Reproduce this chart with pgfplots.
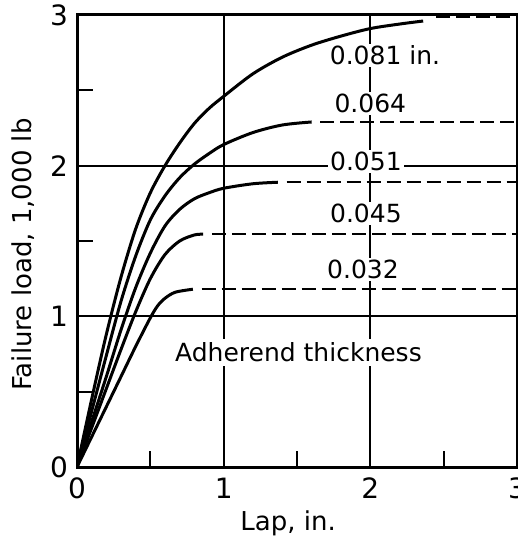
\documentclass[border=0pt]{standalone}
\usepackage{fontspec}
\setmainfont{DejaVu Sans}
\usepackage{pgfplots}
\pgfplotsset{compat=1.18}
\begin{document}
\begin{tikzpicture}
\begin{axis}[
  scale only axis, width=220pt, height=226pt,
  xmin=0, xmax=3, ymin=0, ymax=3,
  xtick={0,1,2,3}, ytick={0,1,2,3},
  minor xtick={0.5,1.5,2.5}, minor ytick={0.5,1.5,2.5},
  major tick length=0pt, minor tick length=8pt,
  tick align=inside, tick pos=left,
  minor tick style={line width=1pt,black},
  grid=major, major grid style={line width=1pt,black},
  axis line style={line width=1.5pt},
  /pgf/number format/assume math mode=true,
  ticklabel style={font=\fontsize{14}{16}\selectfont},
  xticklabel style={yshift=-2pt},
  yticklabel style={xshift=-1pt},
  xlabel={Lap, in.}, ylabel={Failure load, 1,000 lb},
  label style={font=\fontsize{13}{15}\selectfont},
  xlabel style={at={(axis description cs:0.48,-0.124)},anchor=center},
  ylabel style={at={(axis description cs:-0.123,0.47)},anchor=center},
]
\coordinate (SW) at (rel axis cs:0,0);
\coordinate (NE) at (rel axis cs:1,1);
% 0.081 in.
\addplot[line width=1.5pt, smooth, tension=0.5] coordinates {
 (0,0) (0.1,0.45) (0.2,0.88) (0.3,1.26) (0.4,1.58) (0.5,1.82) (0.6,2.0)
 (0.7,2.15) (0.8,2.28) (0.9,2.38) (1.0,2.46) (1.2,2.61) (1.4,2.72) (1.6,2.8)
 (1.8,2.86) (2.0,2.91) (2.2,2.94) (2.36,2.96)};
\addplot[line width=1.2pt, dash pattern=on 7pt off 3pt] coordinates {(2.45,2.985) (3,2.985)};
% 0.064
\addplot[line width=1.5pt, smooth, tension=0.5] coordinates {
 (0,0) (0.1,0.37) (0.2,0.74) (0.3,1.1) (0.4,1.4) (0.5,1.64) (0.6,1.8)
 (0.7,1.92) (0.8,2.01) (0.9,2.08) (1.0,2.14) (1.2,2.22) (1.4,2.27) (1.6,2.29)};
\addplot[line width=1.2pt, dash pattern=on 7pt off 3pt] coordinates {(1.66,2.29) (3,2.29)};
% 0.051
\addplot[line width=1.5pt, smooth, tension=0.5] coordinates {
 (0,0) (0.1,0.3) (0.2,0.6) (0.3,0.91) (0.4,1.19) (0.5,1.42) (0.6,1.6)
 (0.7,1.71) (0.8,1.78) (0.9,1.82) (1.0,1.85) (1.2,1.88) (1.37,1.89)};
\addplot[line width=1.2pt, dash pattern=on 7pt off 3pt] coordinates {(1.43,1.89) (3,1.89)};
% 0.045
\addplot[line width=1.5pt, smooth, tension=0.5] coordinates {
 (0,0) (0.1,0.26) (0.2,0.52) (0.3,0.78) (0.4,1.03) (0.5,1.25) (0.6,1.41)
 (0.7,1.5) (0.8,1.54) (0.86,1.545)};
\addplot[line width=1.2pt, dash pattern=on 7pt off 3pt] coordinates {(0.92,1.545) (3,1.545)};
% 0.032
\addplot[line width=1.5pt, smooth, tension=0.5] coordinates {
 (0,0) (0.1,0.2) (0.2,0.4) (0.3,0.6) (0.4,0.8) (0.5,0.99) (0.55,1.07)
 (0.6,1.12) (0.67,1.16) (0.79,1.18)};
\addplot[line width=1.2pt, dash pattern=on 7pt off 3pt] coordinates {(0.85,1.18) (3,1.18)};
% labels
\node[fill=white, inner sep=1pt, font=\fontsize{12.5}{14}\selectfont] at (axis cs:2.1,2.73) {0.081 in.};
\node[fill=white, inner sep=1pt, font=\fontsize{12.5}{14}\selectfont] at (axis cs:2.0,2.41) {0.064};
\node[fill=white, inner sep=1pt, font=\fontsize{12.5}{14}\selectfont] at (axis cs:1.97,2.03) {0.051};
\node[fill=white, inner sep=1pt, font=\fontsize{12.5}{14}\selectfont] at (axis cs:1.97,1.68) {0.045};
\node[fill=white, inner sep=1pt, font=\fontsize{12.5}{14}\selectfont] at (axis cs:1.95,1.31) {0.032};
\node[fill=white, inner sep=2pt, font=\fontsize{12.5}{14}\selectfont] at (axis cs:1.51,0.76) {Adherend thickness};
\end{axis}
\pgfresetboundingbox
\path ([shift={(-38.5pt,-36.5pt)}]SW) rectangle ([shift={(0.5pt,7.5pt)}]NE);
\end{tikzpicture}
\end{document}
